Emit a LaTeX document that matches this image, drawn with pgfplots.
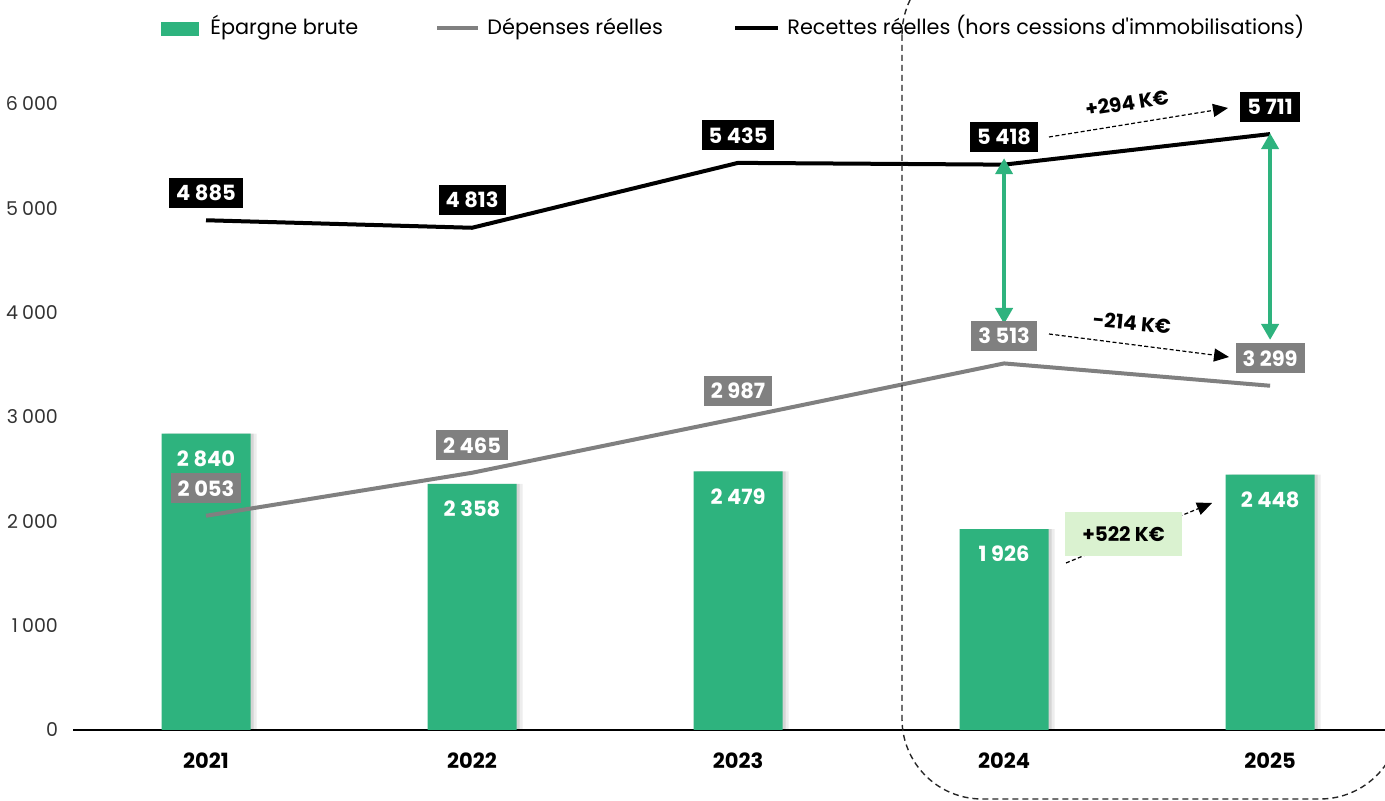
\documentclass[border=0pt]{standalone}
\usepackage{fontspec}
\setmainfont{Poppins}[Ligatures=TeXOff]
\usepackage{pgfplots}
\pgfplotsset{compat=1.18}
\usetikzlibrary{arrows.meta}
\definecolor{epgreen}{RGB}{46,179,126}
\definecolor{depgray}{RGB}{128,128,128}
\definecolor{lightg}{RGB}{218,242,208}
\begin{document}
\begin{tikzpicture}
\useasboundingbox (0,0) rectangle (692.5pt,400.5pt);
\begin{scope}
\clip (0,0) rectangle (692.5pt,400.5pt);
\begin{axis}[
  at={(36.5pt,35.5pt)}, anchor=south west,
  scale only axis, width=656pt, height=360pt,
  xmin=2020.5, xmax=2025.432, ymin=0, ymax=6900,
  axis lines*=left,
  y axis line style={draw=none},
  x axis line style={black, line width=1pt},
  major tick length=0pt,
  ytick={0,1000,...,6000},
  xtick={2021,2022,2023,2024,2025},
  xticklabels={2021,2022,2023,2024,2025},
  yticklabel style={font=\fontsize{9.5}{12}\selectfont, text=black!80, xshift=-4pt},
  xticklabel style={font=\bfseries\fontsize{10.5}{12}\selectfont, yshift=-8pt},
  /pgf/number format/1000 sep={\hspace{0.22em}},
  /pgf/number format/assume math mode=true,
  clip=false,
]
% shadow of bars
\addplot[ybar, bar width=44.5pt, bar shift=3pt, fill=black, opacity=0.07, draw=none]
  coordinates {(2021,2840) (2022,2358) (2023,2479) (2024,1926) (2025,2448)};
\addplot[ybar, bar width=44.5pt, bar shift=1.5pt, fill=black, opacity=0.1, draw=none]
  coordinates {(2021,2840) (2022,2358) (2023,2479) (2024,1926) (2025,2448)};
% Epargne brute
\addplot[ybar, bar width=44.5pt, bar shift=0pt, fill=epgreen, draw=none,
  nodes near coords, point meta=y,
  every node near coord/.append style={text=white, font=\bfseries\fontsize{10.5}{12}\selectfont, anchor=center, yshift=-12.5pt}]
  coordinates {(2021,2840) (2022,2358) (2023,2479) (2024,1926) (2025,2448)};
% Depenses reelles
\addplot[depgray, line width=2pt, mark=none,
  nodes near coords, point meta=y,
  every node near coord/.append style={fill=depgray, text=white, font=\bfseries\fontsize{10.5}{12}\selectfont, inner xsep=3.5pt, inner ysep=0pt, minimum height=15pt, anchor=center, yshift=13.75pt}]
  coordinates {(2021,2053) (2022,2465) (2023,2987) (2024,3513) (2025,3299)};
% Recettes reelles
\addplot[black, line width=2pt, mark=none,
  nodes near coords, point meta=y,
  every node near coord/.append style={fill=black, text=white, font=\bfseries\fontsize{10.5}{12}\selectfont, inner xsep=3.5pt, inner ysep=0pt, minimum height=15pt, anchor=center, yshift=13.75pt}]
  coordinates {(2021,4885) (2022,4813) (2023,5435) (2024,5418) (2025,5711)};
% green double arrows
\draw[epgreen, line width=2pt, {Triangle[length=8pt,width=8.5pt]}-{Triangle[length=8pt,width=8.5pt]}]
  (axis cs:2024,5480) -- (axis cs:2024,3891);
\draw[epgreen, line width=2pt, {Triangle[length=8pt,width=8.5pt]}-{Triangle[length=8pt,width=8.5pt]}]
  (axis cs:2025,5720) -- (axis cs:2025,3738);
\end{axis}
\begin{scope}[shift={(0pt,400.5pt)}, x=0.5pt, y=-0.5pt]
  % legend
  \fill[epgreen] (161,22) rectangle (199,36);
  \node[anchor=base west, inner sep=0pt, font=\fontsize{10.4}{13}\selectfont] at (210,35) {Épargne brute};
  \draw[depgray, line width=2.2pt] (437,28) -- (478,28);
  \node[anchor=base west, inner sep=0pt, font=\fontsize{10.4}{13}\selectfont] at (487,35) {Dépenses réelles};
  \draw[black, line width=2.2pt] (735,28) -- (778,28);
  \node[anchor=base west, inner sep=0pt, font=\fontsize{10.4}{13}\selectfont] at (787,35) {Recettes réelles (hors cessions d'immobilisations)};
  % dashed rounded zone
  \draw[black!85, line width=0.7pt, dash pattern=on 3pt off 2pt, rounded corners=40pt] (902,-45) rectangle (1400,799);
  % annotation arrows
  \draw[black, line width=0.6pt, dash pattern=on 2pt off 1.2pt, -{Triangle[length=7.5pt,width=6.5pt]}] (1049,137) -- (1228,108);
  \node[rotate=9, font=\bfseries\fontsize{10}{12}\selectfont] at (1127,103) {+294 K€};
  \draw[black, line width=0.6pt, dash pattern=on 2pt off 1.2pt, -{Triangle[length=7.5pt,width=6.5pt]}] (1049,334) -- (1229,357);
  \node[rotate=-5, font=\bfseries\fontsize{10}{12}\selectfont] at (1132,323) {-214 K€};
  \draw[black, line width=0.6pt, dash pattern=on 2pt off 1.2pt, -{Triangle[length=7.5pt,width=6.5pt]}] (1066,563) -- (1212,503);
  \node[fill=lightg, minimum width=58.5pt, minimum height=22pt, inner sep=0pt, font=\bfseries\fontsize{10}{12}\selectfont] at (1123.5,534) {+522 K€};
\end{scope}
\end{scope}
\end{tikzpicture}
\end{document}
